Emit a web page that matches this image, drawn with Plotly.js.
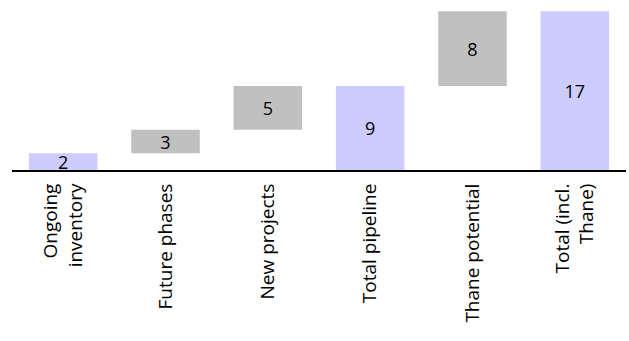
<!DOCTYPE html>
<html>
<head>
<meta charset="utf-8">
<script src="https://cdn.plot.ly/plotly-3.0.1.min.js"></script>
<style>html,body{margin:0;padding:0;background:#fff;}#chart{width:629px;height:341px;}</style>
</head>
<body>
<div id="chart"></div>
<script>
const categories = ["Ongoing<br>inventory", "Future phases", "New projects", "Total pipeline", "Thane potential", "Total (incl.<br>Thane)"];
const values = [1.8, 2.5, 4.7, 9.0, 8.0, 17.0];
const isTotal = [false, false, false, true, false, true];
const labels = ["2", "3", "5", "9", "8", "17"];

const purple = "#CCCCFF", grey = "#C0C0C0";
const bases = [];
let run = 0;
values.forEach((v, i) => {
  if (isTotal[i]) { bases.push(0); run = v; }
  else { bases.push(run); run += v; }
});
const colors = values.map((v, i) => (isTotal[i] || i === 0) ? purple : grey);

Plotly.newPlot("chart", [{
  type: "bar",
  x: categories,
  y: values,
  base: bases,
  marker: {color: colors, line: {width: 0}},
  text: labels,
  textposition: "inside",
  insidetextanchor: "middle",
  textangle: 0,
  constraintext: "none",
  textfont: {family: "Open Sans, sans-serif", size: 18, color: "#000"},
  hoverinfo: "skip"
}], {
  width: 629, height: 341,
  margin: {l: 12, r: 3, t: 2, b: 171},
  paper_bgcolor: "#fff", plot_bgcolor: "#fff",
  bargap: 0.33,
  showlegend: false,
  xaxis: {
    showline: true, linecolor: "#000", linewidth: 2,
    tickangle: -90, ticks: "", showgrid: false, zeroline: false,
    ticklabelstandoff: 4,
    tickfont: {family: "Open Sans, sans-serif", size: 19, color: "#000"}
  },
  yaxis: {range: [0, 18], visible: false, showgrid: false, zeroline: false}
}, {displayModeBar: false, staticPlot: true});
</script>
</body>
</html>
